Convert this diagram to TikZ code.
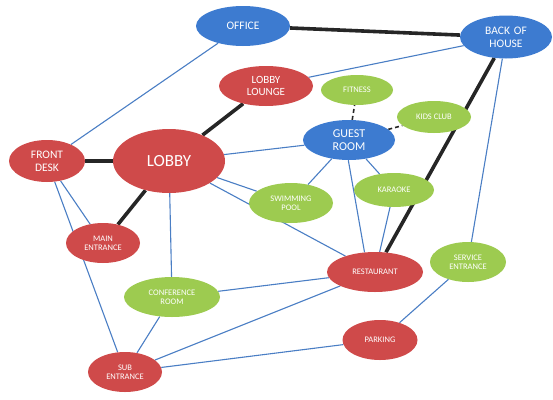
\documentclass[tikz,border=0pt]{standalone}
\usepackage{fontspec}
\setmainfont{Carlito}
\usetikzlibrary{shapes.geometric,backgrounds}
\definecolor{nred}{HTML}{CF4A4A}
\definecolor{nblue}{HTML}{3D7BD0}
\definecolor{ngreen}{HTML}{9DCB50}
\definecolor{lblue}{HTML}{4A7EC4}
\tikzset{
  room/.style={ellipse, inner sep=0pt, text=white, align=center, font=\fontsize{#1}{\dimexpr #1pt*11/10\relax}\selectfont},
  redn/.style={room=#1, fill=nred},
  bluen/.style={room=#1, fill=nblue},
  greenn/.style={room=#1, fill=ngreen},
  link/.style={draw=lblue, line width=1.1pt},
  strong/.style={draw=black!85, line width=3.6pt},
  dlink/.style={draw=black!85, line width=1.6pt, dash pattern=on 4pt off 3pt},
}
\begin{document}
\begin{tikzpicture}[x=1pt,y=-1pt]
\useasboundingbox (0,0) rectangle (553,399);
\node[bluen=11.5, minimum width=94, minimum height=40] (office) at (243,26) {OFFICE};
\node[bluen=11.5, minimum width=92, minimum height=43] (boh) at (506,37) {BACK\,\,OF\\HOUSE};
\node[redn=11, minimum width=94, minimum height=40] (lounge) at (266,86) {LOBBY\\LOUNGE};
\node[greenn=8.5, minimum width=72, minimum height=30] (fitness) at (357,90) {FITNESS};
\node[greenn=8.5, minimum width=74, minimum height=32] (kids) at (434,117) {KIDS CLUB};
\node[bluen=12, minimum width=92, minimum height=40] (guest) at (349,140) {GUEST\\ROOM};
\node[redn=11.5, minimum width=76, minimum height=42] (front) at (47,161) {FRONT\\DESK};
\node[redn=17, minimum width=112, minimum height=64] (lobby) at (169,161) {LOBBY};
\node[greenn=8.5, minimum width=84, minimum height=40] (pool) at (291,203) {SWIMMING\\POOL};
\node[greenn=8.5, minimum width=80, minimum height=34] (karaoke) at (394,190) {KARAOKE};
\node[redn=8.5, minimum width=74, minimum height=40] (main) at (103,243) {MAIN\\ENTRANCE};
\node[greenn=8.5, minimum width=76, minimum height=40] (service) at (468,262) {SERVICE\\ENTRANCE};
\node[redn=8.5, minimum width=96, minimum height=40] (rest) at (375,272) {RESTAURANT};
\node[greenn=8.5, minimum width=96, minimum height=40] (conf) at (172,297) {CONFERENCE\\ROOM};
\node[redn=8.5, minimum width=75, minimum height=40] (parking) at (380,340) {PARKING};
\node[redn=8.5, minimum width=74, minimum height=40] (sub) at (125,372) {SUB\\ENTRANCE};
\begin{scope}[on background layer]
\draw[strong] (office) -- (boh);
\draw[strong] (boh) -- (rest);
\draw[strong] (lounge) -- (lobby);
\draw[strong] (front) -- (lobby);
\draw[strong] (lobby) -- (main);
\draw[link] (office) -- (front);
\draw[link] (boh) -- (lounge);
\draw[link] (boh) -- (service);
\draw[link] (lobby) -- (guest);
\draw[link] (lobby) -- (pool);
\draw[link] (lobby) -- (rest);
\draw[link] (lobby) -- (conf);
\draw[link] (front) -- (main);
\draw[link] (front) -- (sub);
\draw[dlink] (guest) -- (fitness);
\draw[dlink] (guest) -- (kids);
\draw[link] (guest) -- (pool);
\draw[link] (guest.-92) -- (rest.118);
\draw[link] (guest) -- (karaoke);
\draw[link] (karaoke) -- (rest);
\draw[link] (conf) -- (rest);
\draw[link] (conf) -- (sub);
\draw[link] (sub) -- (rest);
\draw[link] (sub) -- (parking);
\draw[link] (parking) -- (service);
\end{scope}
\end{tikzpicture}
\end{document}
